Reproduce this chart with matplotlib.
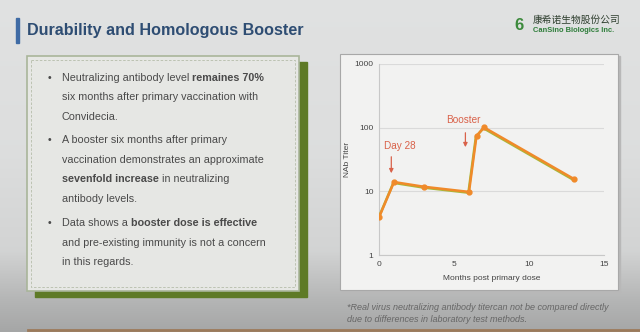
import numpy as np
import matplotlib
matplotlib.use("Agg")
import matplotlib.pyplot as plt
from matplotlib.patches import Rectangle

# ---------------- data ----------------
months = [0, 1, 3, 6, 6.5, 7, 13]
titer = [3.9, 14, 11.8, 9.8, 74, 101, 15.6]
x_ticks = [0, 5, 10, 15]
y_ticks = [1, 10, 100, 1000]
y_tick_labels = ["1", "10", "100", "1000"]
title = "Durability and Homologous Booster"
x_label = "Months post primary dose"
y_label = "NAb Titer"
footnote = ["*Real virus neutralizing antibody titercan not be compared directly",
            "due to differences in laboratory test methods."]
bullets = [
    [[("Neutralizing antibody level ", False), ("remaines 70%", True)],
     [("six months after primary vaccination with", False)],
     [("Convidecia.", False)]],
    [[("A booster six months after primary", False)],
     [("vaccination demonstrates an approximate", False)],
     [("sevenfold increase", True), (" in neutralizing", False)],
     [("antibody levels.", False)]],
    [[("Data shows a ", False), ("booster dose is effective", True)],
     [("and pre-existing immunity is not a concern", False)],
     [("in this regards.", False)]],
]

W, H = 640, 332
fig = plt.figure(figsize=(W / 100, H / 100), dpi=100)
plt.rcParams['font.family'] = ['Liberation Sans', 'DejaVu Sans']

# ---------------- background (pixel coords) ----------------
bg = fig.add_axes([0, 0, 1, 1])
bg.set_xlim(0, W)
bg.set_ylim(H, 0)
bg.axis('off')
grad = np.interp(np.arange(H), [0, 150, 250, 300, 332], [0.885, 0.87, 0.83, 0.71, 0.65])
img = np.repeat(grad[:, None], 10, axis=1)
bg.imshow(np.dstack([img * 0.995, img, img]), extent=(0, W, H, 0), aspect='auto', zorder=0)
bg.plot([28, 640], [330, 330], color='#9C7A5A', lw=2, zorder=1)

# title
bg.add_patch(Rectangle((16, 18), 3, 25, color='#3F6BA5', zorder=2))
bg.text(27, 31, title, fontsize=11.6, fontweight='bold', color='#2E4D73',
        va='center', ha='left', zorder=3)

# logo
bg.text(519, 25, "6", fontsize=12, color='#3C8A3C', fontweight='bold',
        ha='center', va='center', zorder=3)
bg.text(533, 20, "康希诺生物股份公司", fontsize=7, color='#2F3F2F',
        family=['Noto Sans CJK SC', 'DejaVu Sans'], va='center', ha='left', zorder=3)
bg.text(533, 31, "CanSino Biologics Inc.", fontsize=5.4, color='#2E7D3A',
        fontweight='bold', va='center', ha='left', zorder=3)

# left text panel
bg.add_patch(Rectangle((35, 62), 272, 235, color='#5E7A26', zorder=2))
bg.add_patch(Rectangle((27, 56), 272, 235, facecolor='#E6E7E4',
                       edgecolor='#A9B59A', lw=1.2, zorder=3))
bg.add_patch(Rectangle((31, 60), 264, 227, facecolor='none',
                       edgecolor='#B5BDAA', lw=0.6, ls=(0, (3, 2)), zorder=3))

line_ys = [[78, 97.5, 117], [140, 160, 179.5, 199], [222.5, 242.5, 262]]
txt_color = '#4A4A4A'
fs = 7.75
for bl, ys in zip(bullets, line_ys):
    bg.text(48, ys[0], "•", fontsize=fs, color=txt_color, va='center', ha='left', zorder=4)
    for runs, y in zip(bl, ys):
        prev = None
        for s, bold in runs:
            kw = dict(fontsize=fs, color=txt_color, fontweight='bold' if bold else 'normal',
                      va='center', ha='left', zorder=4)
            if prev is None:
                prev = bg.text(62, y, s, **kw)
            else:
                prev = bg.annotate(s, xy=(1, 0.5), xycoords=prev, **kw)

# chart panel
bg.add_patch(Rectangle((342, 56), 278, 236, color='#B8B8B8', zorder=2))
bg.add_patch(Rectangle((340, 54), 278, 236, facecolor='#F2F2F1',
                       edgecolor='#A8A8A8', lw=0.8, zorder=3))

# footnote
bg.text(347, 307, footnote[0], fontsize=6.5, style='italic', color='#666666',
        va='center', ha='left', zorder=3)
bg.text(347, 320, footnote[1], fontsize=6.5, style='italic', color='#666666',
        va='center', ha='left', zorder=3)

# ---------------- chart ----------------
ax = fig.add_axes([379 / W, (H - 255) / H, 225 / W, 191 / H])
ax.set_facecolor('none')
ax.set_yscale('log')
ax.set_xlim(0, 15)
ax.set_ylim(1, 1000)
ax.set_xticks(x_ticks)
ax.set_yticks(y_ticks)
ax.set_yticklabels(y_tick_labels)
ax.yaxis.set_minor_locator(matplotlib.ticker.NullLocator())
ax.tick_params(length=0, labelsize=6, colors='#444444', pad=4)
for sp in ['top', 'right']:
    ax.spines[sp].set_visible(False)
ax.spines['left'].set_color('#C8C8C8')
ax.spines['bottom'].set_color('#C8C8C8')
ax.spines['left'].set_linewidth(0.8)
ax.spines['bottom'].set_linewidth(0.8)
ax.grid(axis='y', color='#DADADA', lw=0.8)
ax.set_axisbelow(True)
ax.set_xlabel(x_label, fontsize=6, color='#444444', labelpad=5)
ax.set_ylabel(y_label, fontsize=6, color='#444444')
ax.yaxis.set_label_coords(-0.125, 0.5)

ax.plot(months, titer, color='#A8B838', lw=1.8, zorder=3,
        transform=ax.transData + matplotlib.transforms.ScaledTranslation(-0.6 / 100, -0.8 / 100, fig.dpi_scale_trans))
ax.plot(months, titer, color='#F08A2A', lw=1.8, marker='o', ms=3.5, zorder=4)

ann_color = '#D9624A'
ax.annotate("", xy=(0.82, 17.4), xytext=(0.82, 38.6),
            arrowprops=dict(arrowstyle='-|>', color=ann_color, lw=0.9, mutation_scale=6))
ax.text(0.35, 52, "Day 28", fontsize=7.2, color=ann_color, ha='left', va='center')
ax.annotate("", xy=(5.76, 44.7), xytext=(5.76, 92),
            arrowprops=dict(arrowstyle='-|>', color=ann_color, lw=0.9, mutation_scale=6))
ax.text(4.45, 132, "Booster", fontsize=7.2, color=ann_color, ha='left', va='center')

fig.savefig("out.png", dpi=100)
